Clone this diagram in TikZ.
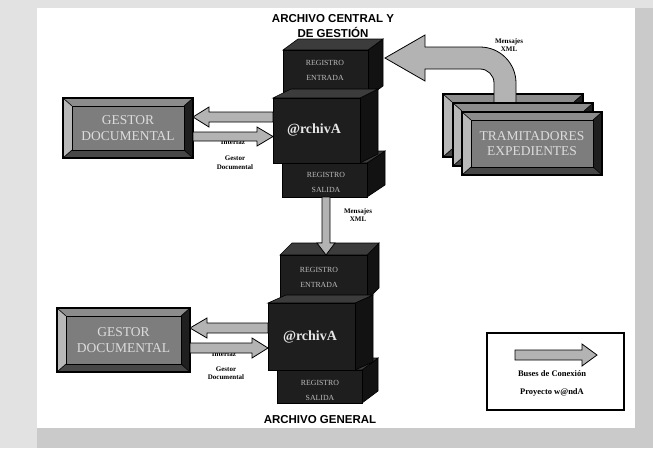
\documentclass[tikz,border=0pt]{standalone}
\usepackage{fontspec}
\setmainfont{Liberation Serif}
\newfontfamily\hdfont{Liberation Sans}
\usetikzlibrary{calc}
\definecolor{bgout}{HTML}{CACACA}
\definecolor{bgleft}{HTML}{E2E2E2}
\definecolor{blkf}{HTML}{1E1E1E}
\definecolor{blkt}{HTML}{3C3C3C}
\definecolor{blkr}{HTML}{121212}
\definecolor{arrowgray}{HTML}{B3B3B3}
\definecolor{bevface}{HTML}{7D7D7D}
\definecolor{bevtop}{HTML}{8C8C8C}
\definecolor{bevleft}{HTML}{B8B8B8}
\definecolor{bevright}{HTML}{1F1F1F}
\definecolor{bevbot}{HTML}{474747}
\definecolor{gtxt}{HTML}{DCDCDC}
\definecolor{regtxt}{HTML}{BDBDBD}
\definecolor{archtxt}{HTML}{E6E6E6}
\tikzset{
 blkfront/.style={fill=blkf, draw=black, line width=0.6pt, inner sep=0pt, outer sep=0pt},
 blktop/.style={fill=blkt, draw=black, line width=0.6pt},
 blkright/.style={fill=blkr, draw=black, line width=0.6pt},
 busarrow/.style={fill=arrowgray, draw=black, line width=0.8pt, line join=miter},
 regtext/.style={text=regtxt, font=\fontsize{7.8}{15}\selectfont, align=center, inner sep=0pt},
 archtext/.style={text=archtxt, font=\bfseries\fontsize{14}{15}\selectfont, inner sep=0pt},
 gesttext/.style={text=gtxt, font=\fontsize{13.5}{15.5}\selectfont, align=center},
 smalllab/.style={font=\bfseries\fontsize{7}{8.5}\selectfont, align=center, inner sep=0pt},
 leglab/.style={font=\bfseries\fontsize{8.5}{10}\selectfont, inner sep=0pt},
 heading/.style={font=\hdfont\bfseries\fontsize{11.5}{14.5}\selectfont, align=center, inner sep=0pt},
}
% 3D block: name x1 y1 x2 y2 dx dy
\newcommand\cubeblock[7]{%
 \filldraw[blkright] (#4,#3) -- ++(#6,-#7) -- ++(0,{#5-#3}) -- (#4,#5) -- cycle;
 \filldraw[blktop] (#2,#3) -- ++(#6,-#7) -- ++({#4-#2},0) -- (#4,#3) -- cycle;
 \node[blkfront, minimum width={#4-#2}, minimum height={#5-#3}] (#1) at ({(#2+#4)/2},{(#3+#5)/2}) {};
}
% bevelled box: name x1 y1 x2 y2 text
\newcommand\bevelbox[6]{%
 \fill[bevleft] (#2,#3) -- ({#2+9},{#3+8}) -- ({#2+9},{#5-8}) -- (#2,#5) -- cycle;
 \fill[bevtop] (#2,#3) -- (#4,#3) -- ({#4-9},{#3+8}) -- ({#2+9},{#3+8}) -- cycle;
 \fill[bevright] (#4,#3) -- (#4,#5) -- ({#4-9},{#5-8}) -- ({#4-9},{#3+8}) -- cycle;
 \fill[bevbot] (#2,#5) -- (#4,#5) -- ({#4-9},{#5-8}) -- ({#2+9},{#5-8}) -- cycle;
 \draw[line width=0.6pt] (#2,#3) -- ({#2+9},{#3+8}) (#4,#3) -- ({#4-9},{#3+8}) (#2,#5) -- ({#2+9},{#5-8}) (#4,#5) -- ({#4-9},{#5-8});
 \node[draw=black, line width=0.7pt, fill=bevface, minimum width={#4-#2-18}, minimum height={#5-#3-16}, inner sep=0pt, gesttext] (#1-face) at ({(#2+#4)/2},{(#3+#5)/2}) {#6};
 \node[draw=black, line width=1.3pt, minimum width={#4-#2}, minimum height={#5-#3}, inner sep=0pt, outer sep=0pt] (#1) at ({(#2+#4)/2},{(#3+#5)/2}) {};
}
% horizontal block arrow: tail tip shafthalf headhalf headlen
\newcommand\harrow[5]{%
 \filldraw[busarrow] let \p1=(#1), \p2=(#2), \p3=($(#2)!#5pt!(#1)$) in
  (\x1,\y1+#3pt) -- (\x3,\y1+#3pt) -- (\x3,\y1+#4pt) -- (\x2,\y2) -- (\x3,\y1-#4pt) -- (\x3,\y1-#3pt) -- (\x1,\y1-#3pt) -- cycle;
}
% vertical block arrow
\newcommand\varrow[5]{%
 \filldraw[busarrow] let \p1=(#1), \p2=(#2), \p3=($(#2)!#5pt!(#1)$) in
  (\x1+#3pt,\y1) -- (\x1+#3pt,\y3) -- (\x1+#4pt,\y3) -- (\x2,\y2) -- (\x1-#4pt,\y3) -- (\x1-#3pt,\y3) -- (\x1-#3pt,\y1) -- cycle;
}
\begin{document}
\begin{tikzpicture}[x=1pt,y=-1pt]
\useasboundingbox (0,0) rectangle (653,448);
% background
\fill[bgout] (0,0) rectangle (653,448);
\fill[bgleft] (0,0) rectangle (37,448);
\fill[bgleft] (0,0) rectangle (653,8);
\fill[white] (37,8) rectangle (635,428);

% titles
\node[heading] (tcentral) at (333,26) {ARCHIVO CENTRAL Y\\DE GESTIÓN};
\node[heading] (tgeneral) at (320,420) {ARCHIVO GENERAL};

% ---------- top stack ----------
\cubeblock{RE1}{283}{50}{368}{97}{15}{11}
\cubeblock{RS1}{282}{163}{367}{197}{18}{12}
\cubeblock{AA1}{273}{98}{360}{163}{18}{9}
\node[regtext] (re1t) at (325,70.5) {REGISTRO\\ENTRADA};
\node[archtext] (aa1t) at (314,130) {@rchivA};
\node[regtext] (rs1t) at (326,182.5) {REGISTRO\\SALIDA};

% ---------- bottom stack ----------
\cubeblock{RE2}{280}{255}{367}{300}{12}{12}
\cubeblock{RS2}{277}{370}{362}{403}{16}{12}
\cubeblock{AA2}{268}{303}{355}{370}{18}{8}
\node[regtext] (re2t) at (319,277.5) {REGISTRO\\ENTRADA};
\node[archtext] (aa2t) at (310,337) {@rchivA};
\node[regtext] (rs2t) at (320,390) {REGISTRO\\SALIDA};

% ---------- gestor boxes ----------
\bevelbox{GD1}{63}{98}{193}{158}{GESTOR\\DOCUMENTAL}
\bevelbox{GD2}{57}{308}{190}{372}{GESTOR\\DOCUMENTAL}

% labels under arrows
\node[smalllab] (if1) at (233,142) {Interfaz};
\node[smalllab] (gd1l) at (235,162.5) {Gestor\\Documental};
\node[smalllab] (if2) at (224,354) {Interfaz};
\node[smalllab] (gd2l) at (226,373) {Gestor\\Documental};

% helper levels
\coordinate (lvA) at (0,117);
\coordinate (lvB) at (0,136.5);
\coordinate (lvC) at (0,328);
\coordinate (lvD) at (0,348);
\coordinate (dvx) at (326,0);

\harrow{AA1.west |- lvA}{GD1.east |- lvA}{5}{10}{16}
\harrow{GD1.east |- lvB}{AA1.west |- lvB}{4.5}{9.5}{16}
\harrow{AA2.west |- lvC}{GD2.east |- lvC}{5}{10}{17}
\harrow{GD2.east |- lvD}{AA2.west |- lvD}{5}{10}{16}

% down arrow
\varrow{RS1.south -| dvx}{RE2.north -| dvx}{4}{9}{12}
\node[smalllab] (mx2) at (358,215) {Mensajes\\XML};

% ---------- tramitadores ----------
\bevelbox{TR3}{443}{94}{583}{157}{}
\filldraw[busarrow] (494,103) -- (494,83) .. controls (494,75.3) and (487.7,69) .. (480,69)
  -- (425,69) -- (425,81) -- (385,58) -- (425,35) -- (425,47) -- (480,47)
  .. controls (499.9,47) and (516,63.1) .. (516,83) -- (516,103) -- cycle;
\bevelbox{TR2}{453}{103}{593}{166}{}
\bevelbox{TR1}{462}{112}{602}{175}{TRAMITADORES\\EXPEDIENTES}
\node[smalllab] (mx1) at (509,45) {Mensajes\\XML};

% ---------- legend ----------
\node[draw=black, line width=1.8pt, minimum width=137, minimum height=77, inner sep=0pt] (leg) at (555.5,371.5) {};
\coordinate (lgA) at (515,355);
\coordinate (lgB) at (597,355);
\harrow{lgA}{lgB}{5}{11}{15}
\node[leglab] (legb) at (552,373.5) {Buses de Conexión};
\node[leglab] (legp) at (552,392) {Proyecto w@ndA};
\end{tikzpicture}
\end{document}
